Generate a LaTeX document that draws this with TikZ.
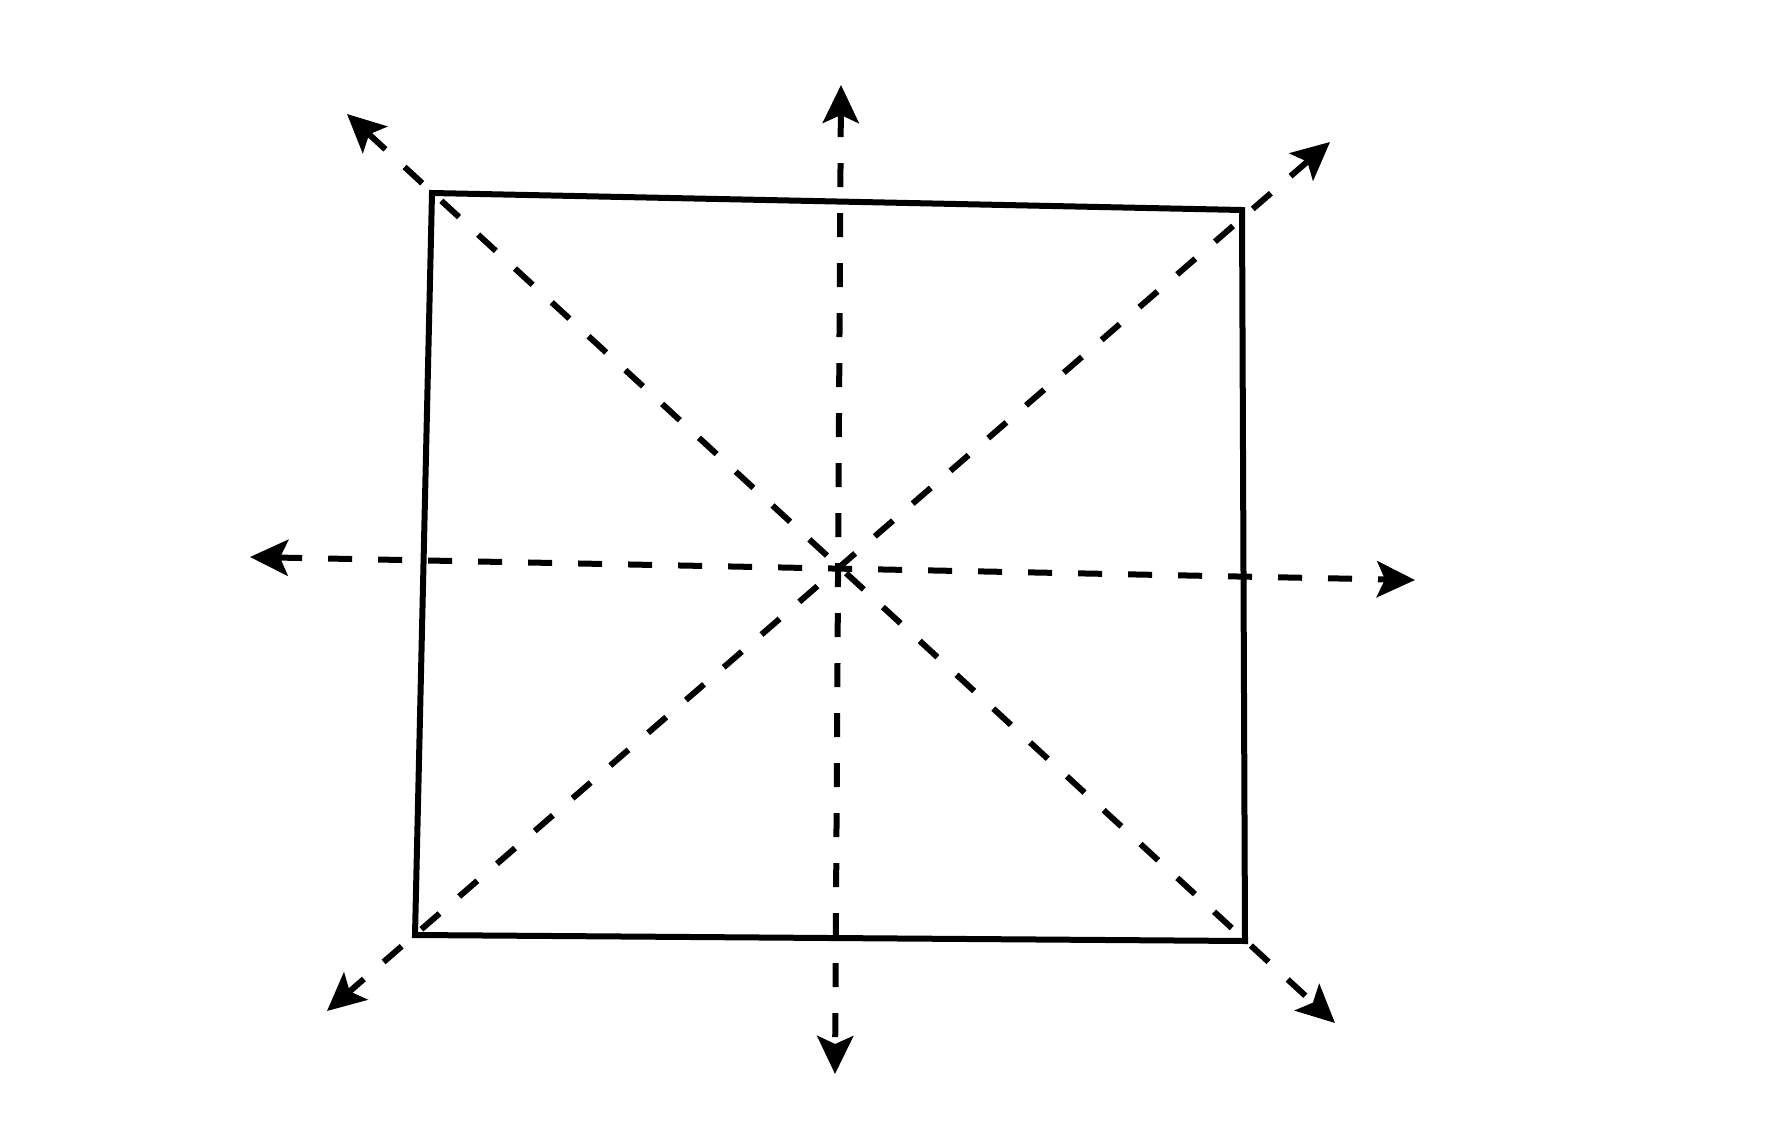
\documentclass[tikz,border=0pt]{standalone}
\usetikzlibrary{arrows.meta}
\begin{document}
\begin{tikzpicture}[x=1pt,y=-1pt,
  edge/.style={line width=6pt,line join=miter,black},
  axis/.style={line width=6pt,dash pattern=on 24pt off 26pt,black,
    {Stealth[length=38pt,width=36pt,inset=8pt]}-{Stealth[length=38pt,width=36pt,inset=8pt]}}]
\fill[white] (0,0) rectangle (1782,1140);
\useasboundingbox (0,0) rectangle (1782,1140);
% square corners
\coordinate (TL) at (432,193);
\coordinate (TR) at (1242,210);
\coordinate (BR) at (1245,941);
\coordinate (BL) at (415,935);
% arrow tips
\coordinate (tT) at (841,85);
\coordinate (tB) at (835,1074);
\coordinate (tL) at (250,557);
\coordinate (tR) at (1415,580);
\coordinate (tTL) at (347,114);
\coordinate (tBR) at (1335,1023);
\coordinate (tTR) at (1330,142);
\coordinate (tBL) at (327,1011);
\draw[edge] (TL) -- (TR) -- (BR) -- (BL) -- cycle;
\draw[axis] (tT) -- (tB);
\draw[axis] (tL) -- (tR);
\draw[axis] (tTL) -- (tBR);
\draw[axis] (tTR) -- (tBL);
\end{tikzpicture}
\end{document}
